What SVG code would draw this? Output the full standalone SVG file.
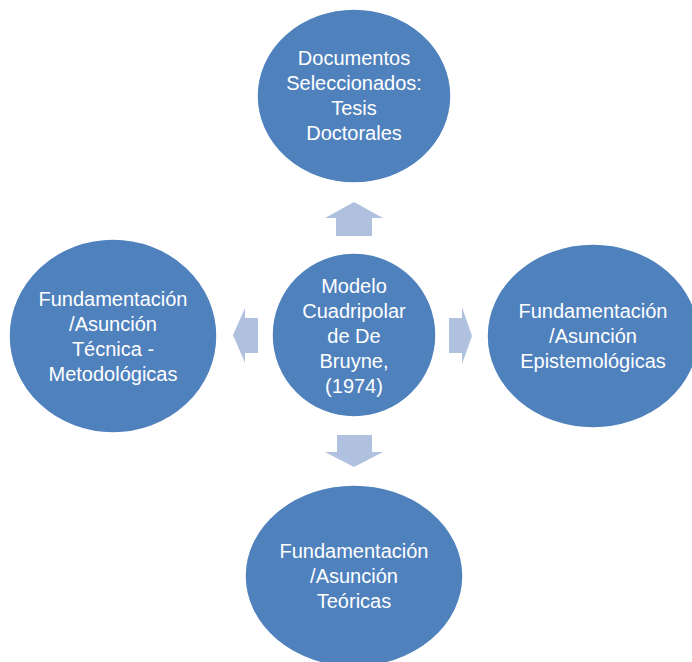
<svg xmlns="http://www.w3.org/2000/svg" width="692" height="662" viewBox="0 0 692 662">
<style>
.node{fill:#4F81BD;stroke:#FFFFFF;stroke-width:1.5}
.arrow{fill:#AFC1DE}
.lbl{font-family:"Liberation Sans",Arial,sans-serif;font-size:20px;fill:#FFFFFF;text-anchor:middle}
</style>
<rect width="692" height="662" fill="#FFFFFF"/>
<g id="connectors">
<polygon class="arrow" points="354,202 383,218 372,218 372,236 336,236 336,218 325,218"/>
<polygon class="arrow" points="233,335 245,308 245,318 258,318 258,353 245,353 245,363"/>
<polygon class="arrow" points="472,336 462,307 462,318 449,318 449,353 462,353 462,364"/>
<polygon class="arrow" points="354,467 383,452 372,452 372,435 337,435 337,452 325,452"/>
</g>
<g id="node-top">
<ellipse class="node" cx="354" cy="96" rx="97" ry="87"/>
<text class="lbl" x="354" y="65">Documentos</text>
<text class="lbl" x="354" y="90">Seleccionados:</text>
<text class="lbl" x="354" y="115">Tesis</text>
<text class="lbl" x="354" y="140">Doctorales</text>
</g>
<g id="node-left">
<ellipse class="node" cx="113" cy="336" rx="104" ry="97"/>
<text class="lbl" x="113" y="306">Fundamentación</text>
<text class="lbl" x="113" y="331">/Asunción</text>
<text class="lbl" x="113" y="356">Técnica -</text>
<text class="lbl" x="113" y="381">Metodológicas</text>
</g>
<g id="node-center">
<ellipse class="node" cx="354" cy="335" rx="82" ry="82"/>
<text class="lbl" x="354" y="293">Modelo</text>
<text class="lbl" x="354" y="318">Cuadripolar</text>
<text class="lbl" x="354" y="343">de De</text>
<text class="lbl" x="354" y="368">Bruyne,</text>
<text class="lbl" x="354" y="393">(1974)</text>
</g>
<g id="node-right">
<ellipse class="node" cx="593" cy="336" rx="106" ry="92"/>
<text class="lbl" x="593" y="318">Fundamentación</text>
<text class="lbl" x="593" y="343">/Asunción</text>
<text class="lbl" x="593" y="368">Epistemológicas</text>
</g>
<g id="node-bottom">
<ellipse class="node" cx="354" cy="576" rx="109" ry="91"/>
<text class="lbl" x="354" y="558">Fundamentación</text>
<text class="lbl" x="354" y="583">/Asunción</text>
<text class="lbl" x="354" y="608">Teóricas</text>
</g>
</svg>
